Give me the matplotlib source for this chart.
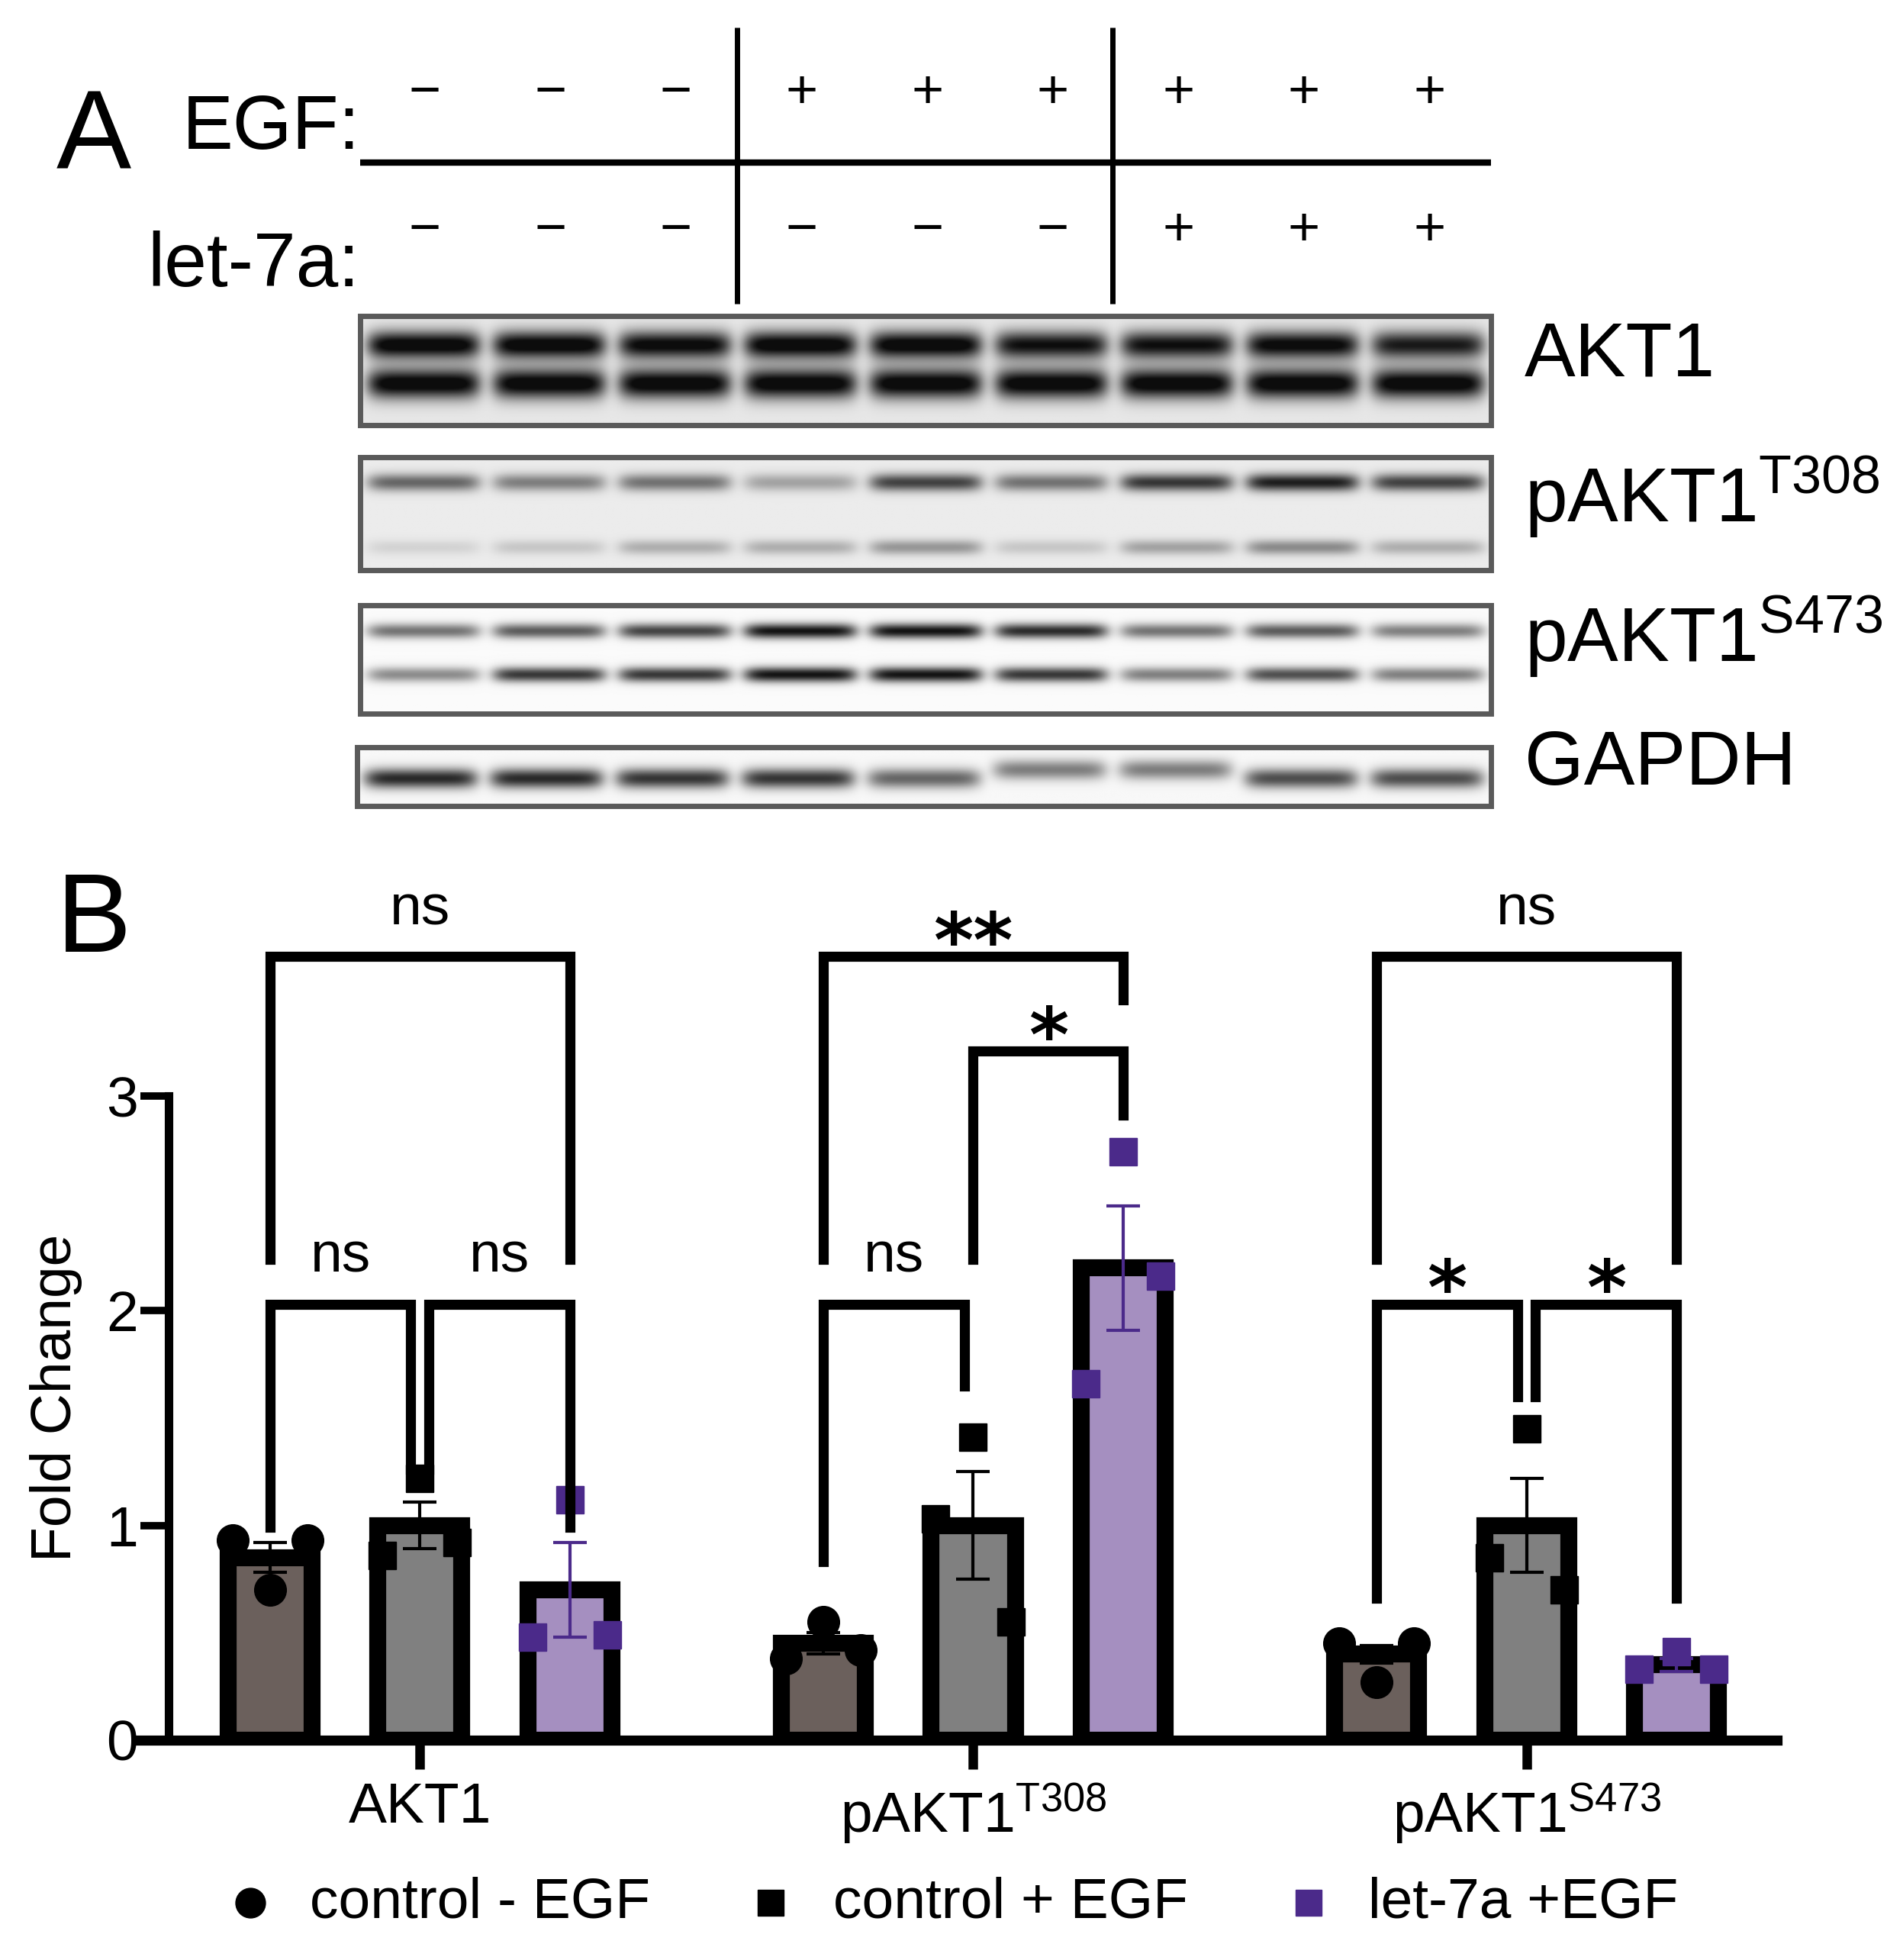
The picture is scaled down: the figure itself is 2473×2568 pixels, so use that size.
import numpy as np
import matplotlib
matplotlib.use("Agg")
import matplotlib.pyplot as plt

plt.rcParams['font.family'] = ['Liberation Sans', 'DejaVu Sans']
plt.rcParams['mathtext.fontset'] = 'custom'
plt.rcParams['mathtext.rm'] = 'Liberation Sans'
plt.rcParams['mathtext.it'] = 'Liberation Sans'

# ---- data ----
egf_signs = ["−", "−", "−", "+", "+", "+", "+", "+", "+"]
let7a_signs = ["−", "−", "−", "−", "−", "−", "+", "+", "+"]

# blot band intensities per lane (0..1), band rows
akt1_upper = [1.0, 1.0, 0.95, 1.0, 1.0, 0.9, 0.9, 0.95, 0.85]
akt1_lower = [1.0, 1.0, 1.0, 1.0, 1.0, 1.0, 1.0, 1.0, 1.0]
t308_upper = [0.55, 0.45, 0.5, 0.3, 0.7, 0.5, 0.75, 0.85, 0.7]
t308_lower = [0.1, 0.15, 0.25, 0.25, 0.35, 0.15, 0.3, 0.4, 0.25]
s473_upper = [0.55, 0.65, 0.75, 0.95, 0.95, 0.85, 0.55, 0.65, 0.5]
s473_lower = [0.45, 0.8, 0.8, 0.95, 0.95, 0.8, 0.5, 0.7, 0.5]
gapdh = [0.85, 0.85, 0.8, 0.8, 0.6, 0.5, 0.5, 0.7, 0.7]

categories = ["AKT1", r"pAKT1$^{\mathrm{T308}}$", r"pAKT1$^{\mathrm{S473}}$"]
groups = ["control - EGF", "control + EGF", "let-7a +EGF"]
bar_means = {
    "control - EGF": [0.85, 0.45, 0.40],
    "control + EGF": [1.00, 1.00, 1.00],
    "let-7a +EGF": [0.70, 2.20, 0.35],
}
bar_sem = {
    "control - EGF": [0.07, 0.05, 0.04],
    "control + EGF": [0.11, 0.25, 0.22],
    "let-7a +EGF": [0.22, 0.29, 0.03],
}
points = {
    "control - EGF": [[0.93, 0.70, 0.93], [0.38, 0.55, 0.42], [0.45, 0.27, 0.45]],
    "control + EGF": [[0.86, 1.22, 0.92], [1.03, 1.41, 0.55], [0.85, 1.45, 0.70]],
    "let-7a +EGF": [[0.48, 1.12, 0.49], [1.66, 2.74, 2.16], [0.33, 0.41, 0.33]],
}
# comparisons: (category, group_a, group_b, label)
comparisons = [
    (0, 0, 2, "ns"), (0, 0, 1, "ns"), (0, 1, 2, "ns"),
    (1, 0, 2, "**"), (1, 1, 2, "*"), (1, 0, 1, "ns"),
    (2, 0, 2, "ns"), (2, 0, 1, "*"), (2, 1, 2, "*"),
]

# ---- style ----
fill_colors = ["#6b605c", "#808080", "#a58fc0"]
point_colors = ["black", "black", "#4b2a8a"]
markers = ["o", "s", "s"]
point_dx = [-0.25, 0.0, 0.25]
group_step = 3.69

fig = plt.figure(figsize=(24.73, 25.68), dpi=100)
W, H = 1510, 1568
ov = fig.add_axes([0, 0, 1, 1], zorder=0)
ov.set_xlim(0, W)
ov.set_ylim(H, 0)
ov.axis("off")

# ---- panel A ----
ov.text(75, 112, "A", fontsize=106, ha="center", va="center")
ov.text(288, 103, "EGF:", fontsize=72, ha="right", va="center")
ov.text(288, 213, "let-7a:", fontsize=72, ha="right", va="center")
lane_x = [340 + 100.5 * i for i in range(9)]
for x, s in zip(lane_x, egf_signs):
    ov.text(x, 75, s, fontsize=52, ha="center", va="center")
for x, s in zip(lane_x, let7a_signs):
    ov.text(x, 185, s, fontsize=52, ha="center", va="center")
ov.plot([288, 1193], [130, 130], color="black", lw=6, solid_capstyle="butt")
for xv in (590, 890):
    ov.plot([xv, xv], [22, 243], color="black", lw=5, solid_capstyle="butt")


def blot(x0, x1, y0, y1, bands, bg):
    xs = np.linspace(x0, x1, 600)
    ys = np.linspace(y0, y1, 150)
    X, Y = np.meshgrid(xs, ys)
    img = np.full(X.shape, bg)
    lane_w = (x1 - x0) / 9
    for yc, sig, ints in bands:
        for i, v in enumerate(ints):
            xc = x0 + lane_w * (i + 0.5)
            ycc = yc(i) if callable(yc) else yc
            prof = np.exp(-((X - xc) / (lane_w * 0.45)) ** 8)
            img += v * prof * np.exp(-((Y - ycc) / sig) ** 2)
    img = np.clip(img, 0, 1)
    ov.imshow(img, extent=(x0, x1, y1, y0), cmap="gray_r", vmin=0, vmax=1.05,
              aspect="auto", interpolation="bilinear", zorder=1)
    ov.add_patch(plt.Rectangle((x0, y0), x1 - x0, y1 - y0, fill=False,
                               ec="#5a5a5a", lw=5, zorder=2))


blot(288, 1193, 253, 340, [(276, 11, akt1_upper), (307, 12, akt1_lower)], 0.1)
blot(288, 1193, 366, 456, [(386, 7, t308_upper), (438, 6, t308_lower)], 0.08)
blot(288, 1193, 484, 571, [(505, 6, s473_upper), (540, 6, s473_lower)], 0.02)
blot(286, 1193, 598, 645,
     [(lambda i: 616 if i in (5, 6) else 623, 8, gapdh)], 0.03)

ov.text(1220, 285, "AKT1", fontsize=72, ha="left", va="center")
ov.text(1220, 398, r"pAKT1$^{\mathrm{T308}}$", fontsize=72, ha="left", va="center")
ov.text(1220, 510, r"pAKT1$^{\mathrm{S473}}$", fontsize=72, ha="left", va="center")
ov.text(1220, 612, "GAPDH", fontsize=72, ha="left", va="center")

# ---- panel B ----
ov.text(75, 738, "B", fontsize=106, ha="center", va="center")
ov.text(45, 1118, "Fold Change", fontsize=54, rotation=90, ha="center", va="center")

x_left, x_right, y_top, y_bot = 112, 1422, 690, 1392
ax = fig.add_axes([x_left / W, 1 - y_bot / H, (x_right - x_left) / W,
                   (y_bot - y_top) / H], zorder=2)
ax.patch.set_alpha(0)
unit = 120.0
ax.set_xlim((x_left - 336) / unit, (x_right - 336) / unit)
ax.set_ylim(0, (y_bot - y_top) / 171.7)

for gi, g in enumerate(groups):
    for ci in range(3):
        xc = ci * group_step + (gi - 1)
        m = bar_means[g][ci]
        ax.bar(xc, m, width=0.56, color=fill_colors[gi], edgecolor="black",
               linewidth=16, zorder=2)
        ax.errorbar(xc, m, yerr=bar_sem[g][ci], color=point_colors[gi],
                    lw=3, capsize=16, capthick=3, zorder=3)
        for dx, v in zip(point_dx, points[g][ci]):
            ax.plot(xc + dx * (1 if v != max(points[g][ci]) or markers[gi] == "o" else 0),
                    v, marker=markers[gi], color=point_colors[gi],
                    ms=30 if markers[gi] == "o" else 26, ls="none", zorder=4,
                    clip_on=False)

# significance brackets
levels = {(0, 2): 3.65, (0, 1): 2.03, (1, 2): 2.03}
leg_bottom = {(0, 2): (2.24, 2.24), (0, 1): (0.99, 1.26), (1, 2): (1.26, 0.99)}
for ci, a, b, lab in comparisons:
    xa = ci * group_step + (a - 1)
    xb = ci * group_step + (b - 1)
    y = levels[(a, b)]
    la, lb = leg_bottom[(a, b)]
    if ci == 1:
        if (a, b) == (0, 2):
            la, lb = 2.24, 3.45
        elif (a, b) == (1, 2):
            y, la, lb = 3.21, 2.24, 2.91
        else:
            la, lb = 0.83, 1.65
    if ci == 2 and (a, b) != (0, 2):
        la, lb = (0.66, 1.6) if (a, b) == (0, 1) else (1.6, 0.66)
    if (a, b) == (0, 1):
        xb -= 0.06
    if (a, b) == (1, 2) and ci != 1:
        xa += 0.06
    ax.plot([xa, xa, xb, xb], [la, y, y, lb], color="black", lw=9.5,
            solid_joinstyle="miter", zorder=5, clip_on=False)
    ty = y + 0.22 if lab == "ns" else y + 0.13
    if lab == "ns":
        ax.text((xa + xb) / 2, ty, lab, fontsize=54, ha="center", va="center")
    else:
        ax.text((xa + xb) / 2, ty - 0.08, lab, fontsize=72, fontweight="bold",
                ha="center", va="center", family="DejaVu Sans")

for s in ("top", "right"):
    ax.spines[s].set_visible(False)
ax.spines["bottom"].set_linewidth(9.5)
ax.spines["left"].set_linewidth(8)
ax.spines["left"].set_position(("data", (135 - 336) / unit))
ax.spines["left"].set_bounds(0, 3)
ax.set_yticks([0, 1, 2, 3])
ax.set_yticklabels(["0", "1", "2", "3"], fontsize=54)
ax.tick_params(axis="y", length=27, width=7, pad=2)
ax.set_xticks([ci * group_step for ci in range(3)])
ax.set_xticklabels(categories, fontsize=54)
ax.tick_params(axis="x", length=27, width=9, pad=12)

# legend
ly = 1522
ov.plot(200, ly, "o", color="black", ms=28)
ov.text(248, ly, groups[0], fontsize=54, va="center")
ov.plot(617, ly, "s", color="black", ms=24)
ov.text(667, ly, groups[1], fontsize=54, va="center")
ov.plot(1047, ly, "s", color="#4b2a8a", ms=24)
ov.text(1095, ly, groups[2], fontsize=54, va="center")

fig.savefig("out.png", dpi=100)
